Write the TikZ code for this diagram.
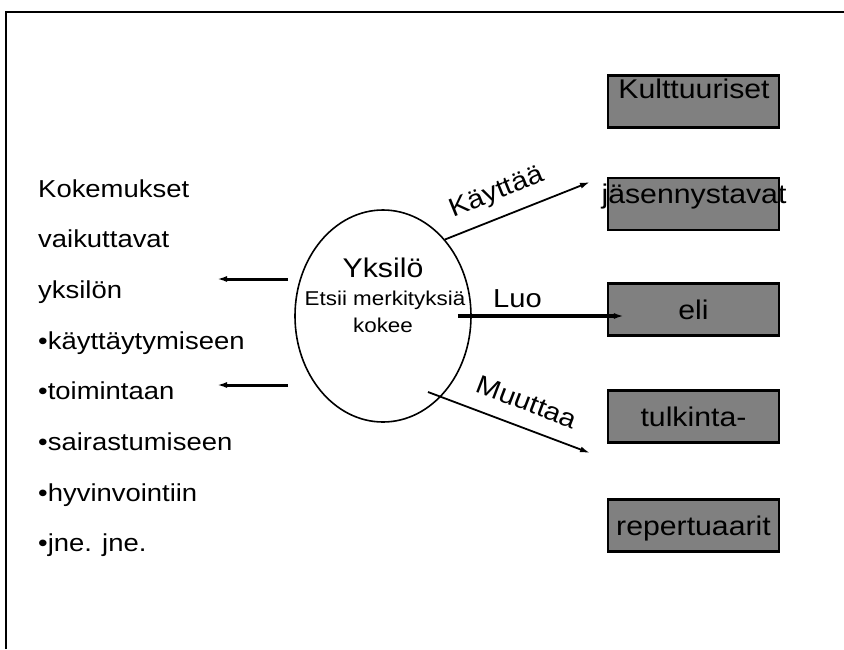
\documentclass[tikz,border=0pt]{standalone}
\usepackage{fontspec}
\setmainfont{Liberation Sans}[FakeStretch=1.12]
\usetikzlibrary{shapes.geometric}
\usetikzlibrary{arrows.meta}
\definecolor{boxgray}{RGB}{128,128,128}

\begin{document}
\begin{tikzpicture}[x=1pt,y=-1pt]
\tikzstyle{box}=[rectangle,draw,line width=2.2pt,fill=boxgray,minimum width=171pt,minimum height=52pt,inner sep=0pt,
    text height=22pt,text depth=2pt,font=\fontsize{27}{30}\selectfont]
\tikzstyle{boxtext}=[inner sep=0pt,font=\fontsize{27}{30}\selectfont]
\tikzstyle{listtext}=[inner sep=0pt,anchor=base west,font=\fontsize{24.5}{30}\selectfont]
\tikzstyle{lbl}=[inner sep=0pt,font=\fontsize{26}{30}\selectfont]
\tikzstyle{arr}=[-{Latex[length=10pt,width=6pt]}]
\useasboundingbox (0,0) rectangle (844,649);
\draw[line width=2.2pt] (6,649) -- (6,12) -- (844,12);
% list on the left
\foreach \t [count=\i from 0] in {Kokemukset,vaikuttavat,yksilön,•käyttäytymiseen,•toimintaan,•sairastumiseen,•hyvinvointiin,•jne. jne.}
    \node[listtext] (l\i) at (38, 197+50.7*\i) {\t};
% the individual
\node[draw,ellipse,line width=1.6pt,minimum width=176pt,minimum height=212pt,inner sep=0pt] (yks) at (383,316) {};
\node[boxtext,anchor=base] (yksn) at (383,277) {Yksilö};
\node[inner sep=0pt,anchor=base,font=\fontsize{20}{24}\selectfont] (etsii) at (385,305) {Etsii merkityksiä};
\node[inner sep=0pt,anchor=base,font=\fontsize{20}{24}\selectfont] (kokee) at (383,332) {kokee};
% boxes on the right
\node[box] (k1) at (693.5,101.5) {};
\node[boxtext,anchor=base] (k1t) at (694,98) {Kulttuuriset};
\node[box] (k2) at (693.5,204) {};
\node[boxtext,anchor=base] (k2t) at (694,203) {jäsennystavat};
\node[box] (eli) at (693.5,309.5) {eli};
\node[box] (tulk) at (693.5,416.5) {tulkinta-};
\node[box] (rep) at (693.5,525.5) {repertuaarit};
% arrows
\coordinate (v1) at (288,279);
\coordinate (v1e) at (217,279);
\coordinate (v2) at (288,385);
\coordinate (v2e) at (217,385);
\draw[arr,line width=3pt] (v1) -- (v1e);
\draw[arr,line width=3pt] (v2) -- (v2e);
\coordinate (kayend) at (590,182);
\draw[arr,line width=1.8pt] (yks.51) -- (kayend);
\node[lbl,rotate=22] (kay) at (497,193) {Käyttää};
\draw[arr,line width=3.5pt] ([xshift=-14pt]yks.east) -- ([xshift=17pt]yks.east -| eli.west);
\node[lbl,anchor=base west] (luo) at (493,307) {Luo};
\coordinate (muustart) at (428,392);
\coordinate (muuend) at (590,453);
\draw[arr,line width=1.8pt] (muustart) -- (muuend);
\node[lbl,rotate=-21] (muu) at (527,402) {Muuttaa};
\end{tikzpicture}
\end{document}
